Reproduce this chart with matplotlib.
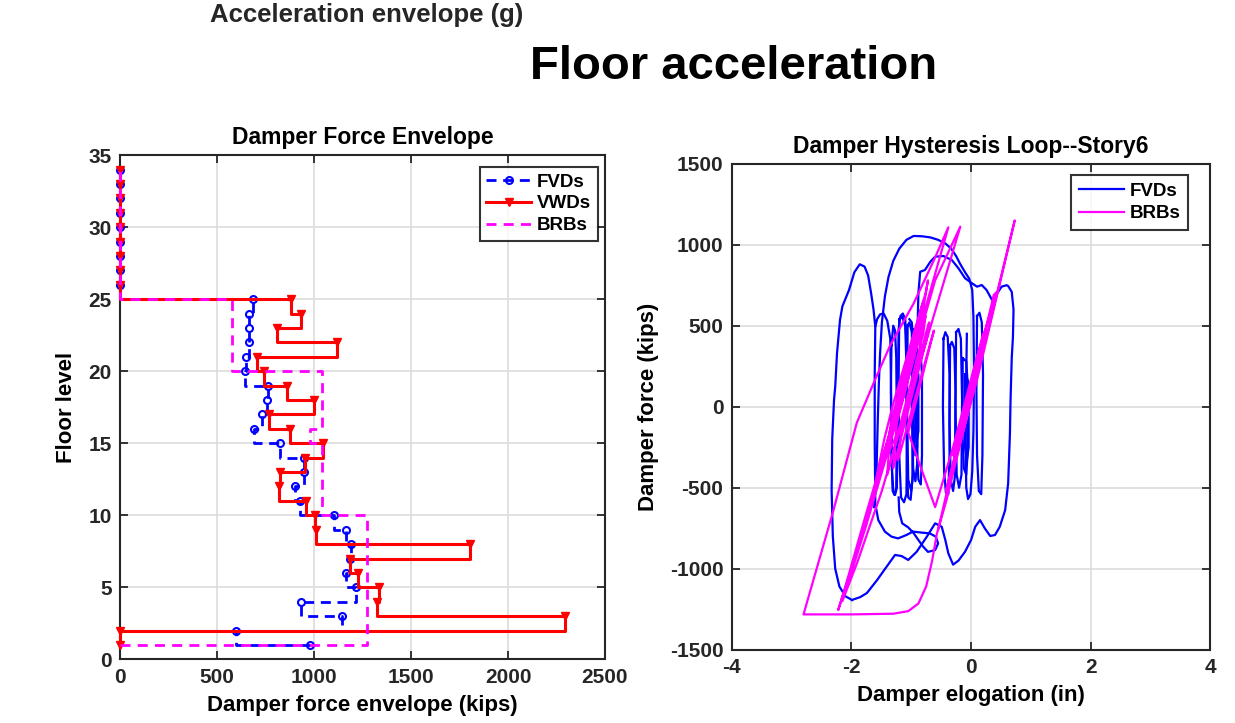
import matplotlib
matplotlib.use('Agg')
import matplotlib.pyplot as plt

plt.rcParams['font.family'] = ['Liberation Sans', 'DejaVu Sans']
plt.rcParams['font.weight'] = 'bold'
plt.rcParams['axes.unicode_minus'] = False

# ---------------- Left panel data: damper force envelope per floor ----------------
floors = list(range(1, 35))
fvd_env = [980, 596, 1146, 931, 1216, 1163, 1186, 1189, 1163, 1105, 928, 902, 948, 950,
           825, 691, 730, 756, 765, 643, 648, 665, 665, 665, 684,
           0, 0, 0, 0, 0, 0, 0, 0, 0]
vwd_env = [0, 0, 2294, 1323, 1337, 1229, 1186, 1805, 1009, 1005, 959, 821, 825, 954,
           1048, 876, 770, 1002, 862, 742, 708, 1117, 809, 933, 881,
           0, 0, 0, 0, 0, 0, 0, 0, 0]
brb_env = [0, 1271, 1271, 1271, 1271, 1271, 1271, 1271, 1271, 1271, 1043, 1043, 1043, 1043,
           1043, 980, 1043, 1043, 1043, 1043, 576, 576, 576, 576, 576,
           0, 0, 0, 0, 0, 0, 0, 0, 0]
x_ticks_left = [0, 500, 1000, 1500, 2000, 2500]
y_ticks_left = [0, 5, 10, 15, 20, 25, 30, 35]

# ---------------- Right panel data: hysteresis (elongation in, force kips) ----------------
fvd_lobe_e = [-1.99, -2.10, -2.20, -2.27, -2.31, -2.33, -2.32, -2.29, -2.27, -2.24, -2.19, -2.15, -2.10,
              -2.04, -1.95, -1.86, -1.78, -1.72, -1.67, -1.63, -1.60, -1.57, -1.52, -1.46, -1.40, -1.35,
              -1.34, -1.33, -1.32, -1.30, -1.27, -1.24, -1.23, -1.22, -1.21, -1.18, -1.14, -1.10, -1.08,
              -1.08, -1.07, -1.05, -1.01, -0.98, -0.97, -0.97, -0.99, -1.03]
fvd_lobe_f = [-1193, -1170, -1110, -1000, -800, -514, -200, 41, 123, 330, 535, 620, 665,
              720, 830, 879, 865, 810, 700, 600, 494, 540, 570, 575, 530, 420,
              200, -100, -400, -520, -545, -500, -200, 200, 480, 560, 575, 540, 400,
              0, -400, -560, -575, -450, 0, 400, 520, 540]

fvd_bottom_e = [-1.99, -1.85, -1.74, -1.57, -1.41, -1.27, -1.16, -1.05, -0.91, -0.74, -0.60, -0.49, -0.43,
                -0.38, -0.30, -0.21, -0.10, 0.00, 0.07, 0.15, 0.23, 0.32, 0.40, 0.48, 0.57, 0.62, 0.65,
                0.66, 0.68, 0.70, 0.71, 0.68, 0.62, 0.595, 0.51, 0.42, 0.35, 0.26, 0.18, 0.10, 0.015,
                -0.10, -0.21, -0.32, -0.46, -0.60, -0.68, -0.77, -0.85, -0.88, -0.90, -0.91, -0.90,
                -0.88, -0.84, -0.82, -0.82, -0.85]
fvd_bottom_f = [-1193, -1175, -1150, -1070, -987, -915, -922, -946, -896, -803, -720, -741, -823,
                -905, -975, -950, -895, -823, -741, -700, -751, -798, -792, -741, -638, -473, -165,
                41, 300, 430, 600, 709, 745, 750, 741, 690, 659, 720, 751, 741, 762,
                793, 854, 905, 930, 926, 895, 844, 833, 700, 400, 0, -300,
                -450, -480, -300, 200, 380]

fvd_arc_e = [-1.62, -1.58, -1.56, -1.54, -1.52, -1.49, -1.44, -1.38, -1.30, -1.20, -1.08, -0.96, -0.82,
             -0.68, -0.55, -0.43, -0.33, -0.25, -0.18, -0.10, -0.03, 0.02, 0.04, 0.05, 0.04, 0.02,
             -0.01, -0.05, -0.08, -0.09, -0.08, -0.07]
fvd_arc_f = [-620, -400, -100, 150, 330, 520, 680, 800, 900, 975, 1030, 1054, 1052,
             1045, 1030, 1008, 975, 930, 880, 830, 790, 720, 550, 200, -150, -400,
             -540, -570, -500, -200, 200, 450]

fvd_wiggle_e = [-1.60, -1.61, -1.61, -1.60, -1.55, -1.44, -1.33, -1.22, -1.08, -0.97, -0.83, -0.69, -0.59,
                -0.55, -0.60, -0.72, -0.80, -0.88, -0.96, -1.05, -1.15, -1.20, -1.21]
fvd_wiggle_f = [494, 200, -200, -600, -700, -771, -802, -813, -792, -771, -777, -782, -802,
                -844, -885, -896, -864, -823, -780, -745, -720, -650, -560]

fvd_spike1_e = [-1.33, -1.34, -1.33, -1.31, -1.28, -1.25, -1.24, -1.25, -1.27, -1.30, -1.33]
fvd_spike1_f = [380, 100, -300, -520, -545, -500, -100, 300, 470, 500, 380]
fvd_spike2_e = [-1.20, -1.21, -1.20, -1.17, -1.12, -1.08, -1.07, -1.08, -1.10, -1.15, -1.20]
fvd_spike2_f = [540, 200, -300, -560, -590, -540, -200, 250, 500, 555, 540]
fvd_spike3_e = [-1.06, -1.07, -1.05, -1.00, -0.97, -0.97, -0.99, -1.03, -1.06]
fvd_spike3_f = [500, 0, -450, -520, -420, 100, 460, 520, 500]
fvd_spike4_e = [-0.98, -0.99, -0.97, -0.93, -0.90, -0.90, -0.92, -0.96, -0.98]
fvd_spike4_f = [450, 0, -380, -460, -350, 150, 440, 480, 450]
fvd_spike5_e = [-0.95, -0.96, -0.93, -0.90, -0.89, -0.91, -0.95]
fvd_spike5_f = [350, -100, -300, -250, 100, 330, 350]
fvd_spike6_e = [-0.93, -0.93, -0.91, -0.88, -0.88, -0.93]
fvd_spike6_f = [250, -150, -220, -150, 200, 250]
fvd_spike7_e = [-0.46, -0.47, -0.45, -0.42, -0.38, -0.36, -0.36, -0.39, -0.43, -0.46]
fvd_spike7_f = [420, 0, -400, -530, -540, -300, 200, 430, 460, 420]
fvd_spike8_e = [-0.35, -0.36, -0.34, -0.30, -0.27, -0.26, -0.28, -0.32, -0.35]
fvd_spike8_f = [380, -100, -450, -520, -430, 100, 360, 400, 380]
fvd_spike9_e = [-0.25, -0.26, -0.24, -0.20, -0.16, -0.15, -0.17, -0.21, -0.25]
fvd_spike9_f = [460, 0, -420, -500, -420, 50, 420, 480, 460]
fvd_spike10_e = [-0.14, -0.14, -0.12, -0.08, -0.06, -0.05, -0.08, -0.14]
fvd_spike10_f = [300, -200, -380, -420, -300, 100, 280, 300]
fvd_spike11_e = [-0.10, -0.10, -0.07, -0.04, -0.04, -0.10]
fvd_spike11_f = [200, -250, -330, -250, 150, 200]
fvd_spike12_e = [0.10, 0.09, 0.10, 0.13, 0.17, 0.19, 0.20, 0.18, 0.14, 0.10]
fvd_spike12_f = [560, 100, -300, -520, -540, -300, 200, 520, 580, 560]

brb_e = [-0.55, -0.41, 0.10, 0.73,
         0.40, 0.00, -0.41, -0.57, -0.65, -0.75, -0.88, -1.05, -1.30, -2.00, -2.80,
         -2.30, -1.91, -1.60, -1.35, -0.96, -0.62, -0.38,
         -0.80, -1.30, -1.80, -2.10, -2.22,
         -1.80, -1.40, -1.00, -0.60, -0.18,
         -0.60, -1.00, -1.50, -1.90, -2.15,
         -1.75, -1.40, -1.10, -0.88, -0.72,
         -0.76, -1.00, -1.30, -1.45, -1.60,
         -1.30, -1.10, -0.85, -0.80,
         -0.85, -1.10, -1.36, -1.40,
         -1.10, -0.86, -0.80, -0.84, -1.10, -1.34, -1.40,
         -1.05, -0.80, -0.76, -0.81, -1.05, -1.24, -1.30,
         -1.00, -0.74, -0.70, -0.75, -0.95, -1.16, -1.22,
         -0.90, -0.66, -0.62, -0.67, -0.90, -1.05,
         -0.60, -0.30, 0.10, 0.43, 0.38, 0.00, -0.35, -0.42,
         -0.10, 0.25, 0.20, -0.20, -0.30]
brb_f = [-760, -535, 165, 1150,
         650, 41, -576, -782, -950, -1110, -1215, -1262, -1278, -1282, -1282,
         -640, -100, 170, 380, 637, 905, 1107,
         560, -90, -720, -1110, -1255,
         -770, -260, 260, 780, 1111,
         590, 90, -530, -960, -1200,
         -730, -290, 100, 420, 780,
         700, 400, 20, -200, -470,
         -80, 180, 520, 600,
         540, 200, -150, -300,
         -60, 300, 650, 600, 240, -100, -420,
         80, 450, 560, 500, 170, -100, -380,
         50, 420, 520, 460, 160, -140, -330,
         100, 420, 470, 400, 60, -160,
         -620, -250, 310, 708, 690, 100, -420, -520,
         -80, 470, 450, -150, -300]

# ---------------- Figure ----------------
W, H = 1235, 723
fig = plt.figure(figsize=(W / 100, H / 100), dpi=100)

def px_axes(l, t, r, b):
    return [l / W, 1 - b / H, (r - l) / W, (b - t) / H]

ax1 = fig.add_axes(px_axes(120, 155.3, 605, 659.3))
ax2 = fig.add_axes(px_axes(731.7, 163.7, 1210.4, 649.7))

spine_col = '#262626'
grid_col = '#dcdcdc'

ax1.plot(fvd_env, floors, drawstyle='steps-post', color='blue', lw=2.0,
         ls=(0, (3.6, 2.4)), marker='o', ms=5, mfc='none', mew=1.5, label='FVDs',
         clip_on=False, zorder=3)
ax1.plot(vwd_env, floors, drawstyle='steps-post', color='red', lw=2.2,
         ls='-', marker='v', ms=5.5, mfc='red', mec='red', label='VWDs',
         clip_on=False, zorder=3)
ax1.plot(brb_env, floors, drawstyle='steps-post', color='magenta', lw=2.0,
         ls=(0, (3.6, 2.6)), label='BRBs', clip_on=False, zorder=3)

ax1.set_xlim(0, 2500)
ax1.set_ylim(0, 35)
ax1.set_xticks(x_ticks_left)
ax1.set_yticks(y_ticks_left)
ax1.set_title('Damper Force Envelope', fontsize=16.5, fontweight='bold', pad=8)
ax1.set_xlabel('Damper force envelope (kips)', fontsize=16, fontweight='bold', labelpad=6)
ax1.set_ylabel('Floor level', fontsize=16, fontweight='bold', labelpad=8)
leg1 = ax1.legend(loc='upper right', bbox_to_anchor=(0.985, 0.977), borderaxespad=0,
                  fontsize=13.5, frameon=True, fancybox=False, edgecolor='black',
                  handlelength=2.4, handletextpad=0.3, labelspacing=0.25, borderpad=0.35)
leg1.get_frame().set_linewidth(1.5)
leg1.set_zorder(5)

fvd_strokes = [
    (fvd_lobe_e, fvd_lobe_f), (fvd_bottom_e, fvd_bottom_f), (fvd_arc_e, fvd_arc_f),
    (fvd_wiggle_e, fvd_wiggle_f),
    (fvd_spike1_e, fvd_spike1_f), (fvd_spike2_e, fvd_spike2_f), (fvd_spike3_e, fvd_spike3_f),
    (fvd_spike4_e, fvd_spike4_f), (fvd_spike5_e, fvd_spike5_f), (fvd_spike6_e, fvd_spike6_f),
    (fvd_spike7_e, fvd_spike7_f), (fvd_spike8_e, fvd_spike8_f), (fvd_spike9_e, fvd_spike9_f),
    (fvd_spike10_e, fvd_spike10_f), (fvd_spike11_e, fvd_spike11_f), (fvd_spike12_e, fvd_spike12_f),
]
for i, (e, f) in enumerate(fvd_strokes):
    ax2.plot(e, f, color='blue', lw=1.6, label='FVDs' if i == 0 else None)
ax2.plot(brb_e, brb_f, color='magenta', lw=1.6, label='BRBs')

ax2.set_xlim(-4, 4)
ax2.set_ylim(-1500, 1500)
ax2.set_xticks([-4, -2, 0, 2, 4])
ax2.set_yticks([-1500, -1000, -500, 0, 500, 1000, 1500])
ax2.set_title('Damper Hysteresis Loop--Story6', fontsize=16.5, fontweight='bold', pad=8)
ax2.set_xlabel('Damper elogation (in)', fontsize=16, fontweight='bold', labelpad=6)
ax2.set_ylabel('Damper force (kips)', fontsize=16, fontweight='bold', labelpad=8)
leg2 = ax2.legend(loc='upper right', bbox_to_anchor=(0.953, 0.977), borderaxespad=0,
                  fontsize=13.5, frameon=True, fancybox=False, edgecolor='black',
                  handlelength=2.4, handletextpad=0.3, labelspacing=0.3, borderpad=0.4)
leg2.get_frame().set_linewidth(1.5)

for ax in (ax1, ax2):
    ax.grid(True, color=grid_col, lw=1.2)
    ax.set_axisbelow(True)
    ax.tick_params(direction='in', top=True, right=True, length=6, width=1.3,
                   labelsize=15, colors=spine_col, pad=6)
    for lab in ax.get_xticklabels() + ax.get_yticklabels():
        lab.set_fontweight('bold')
    for s in ax.spines.values():
        s.set_color(spine_col)
        s.set_linewidth(1.5)

fig.text(367 / W, 1 - 15 / H, 'Acceleration envelope (g)', fontsize=18.5, fontweight='bold',
         ha='center', va='center', color='#262626')
fig.text(734 / W, 1 - 67 / H, 'Floor acceleration', fontsize=34, fontweight='bold',
         ha='center', va='center', color='black')

fig.savefig('out.png', dpi=100)
